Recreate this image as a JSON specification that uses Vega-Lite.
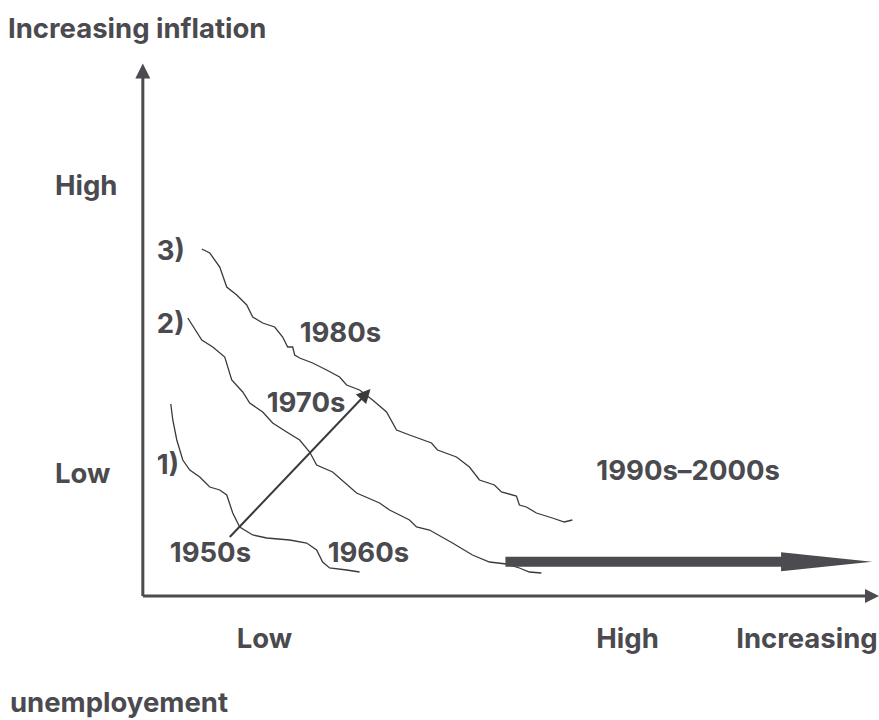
{
  "$schema": "https://vega.github.io/schema/vega-lite/v6.json",
  "width": 879,
  "height": 720,
  "autosize": {"type": "fit", "contains": "padding"},
  "padding": 0,
  "background": "white",
  "config": {"view": {"stroke": null}},
  "datasets": {
    "curves": [
      {"c": 3, "i": 1, "x": 5.9, "y": 34.7}, {"c": 3, "i": 2, "x": 6.7, "y": 34.3}, {"c": 3, "i": 3, "x": 7.7, "y": 32.9},
      {"c": 3, "i": 4, "x": 8.4, "y": 30.9}, {"c": 3, "i": 5, "x": 9.4, "y": 30.1}, {"c": 3, "i": 6, "x": 10.4, "y": 29.1},
      {"c": 3, "i": 7, "x": 11.0, "y": 27.9}, {"c": 3, "i": 8, "x": 12.0, "y": 27.3}, {"c": 3, "i": 9, "x": 13.2, "y": 26.9},
      {"c": 3, "i": 10, "x": 14.0, "y": 25.9}, {"c": 3, "i": 11, "x": 14.5, "y": 24.9}, {"c": 3, "i": 12, "x": 15.0, "y": 24.9},
      {"c": 3, "i": 13, "x": 15.2, "y": 24.1}, {"c": 3, "i": 14, "x": 15.7, "y": 23.8}, {"c": 3, "i": 15, "x": 17.0, "y": 23.3},
      {"c": 3, "i": 16, "x": 18.4, "y": 22.6}, {"c": 3, "i": 17, "x": 19.7, "y": 21.9}, {"c": 3, "i": 18, "x": 20.4, "y": 21.1},
      {"c": 3, "i": 19, "x": 21.7, "y": 20.6}, {"c": 3, "i": 20, "x": 23.0, "y": 19.6}, {"c": 3, "i": 21, "x": 24.4, "y": 18.4},
      {"c": 3, "i": 22, "x": 25.4, "y": 16.6}, {"c": 3, "i": 23, "x": 26.7, "y": 16.1}, {"c": 3, "i": 24, "x": 28.9, "y": 15.3},
      {"c": 3, "i": 25, "x": 29.5, "y": 14.6}, {"c": 3, "i": 26, "x": 31.4, "y": 13.9}, {"c": 3, "i": 27, "x": 32.7, "y": 12.9},
      {"c": 3, "i": 28, "x": 33.7, "y": 11.6}, {"c": 3, "i": 29, "x": 35.2, "y": 11.1}, {"c": 3, "i": 30, "x": 35.9, "y": 10.4},
      {"c": 3, "i": 31, "x": 37.4, "y": 10.0}, {"c": 3, "i": 32, "x": 37.7, "y": 9.1}, {"c": 3, "i": 33, "x": 38.4, "y": 8.9},
      {"c": 3, "i": 34, "x": 39.4, "y": 8.3}, {"c": 3, "i": 35, "x": 41.0, "y": 7.8}, {"c": 3, "i": 36, "x": 42.2, "y": 7.4},
      {"c": 3, "i": 37, "x": 43.0, "y": 7.6},
      {"c": 2, "i": 1, "x": 4.5, "y": 27.8}, {"c": 2, "i": 2, "x": 5.9, "y": 25.6}, {"c": 2, "i": 3, "x": 7.0, "y": 24.9},
      {"c": 2, "i": 4, "x": 8.2, "y": 23.9}, {"c": 2, "i": 5, "x": 8.9, "y": 21.6}, {"c": 2, "i": 6, "x": 10.0, "y": 20.4},
      {"c": 2, "i": 7, "x": 10.7, "y": 19.3}, {"c": 2, "i": 8, "x": 12.0, "y": 18.4}, {"c": 2, "i": 9, "x": 13.0, "y": 17.3},
      {"c": 2, "i": 10, "x": 14.4, "y": 16.4}, {"c": 2, "i": 11, "x": 15.7, "y": 15.6}, {"c": 2, "i": 12, "x": 16.7, "y": 14.4},
      {"c": 2, "i": 13, "x": 17.4, "y": 13.1}, {"c": 2, "i": 14, "x": 19.0, "y": 12.4}, {"c": 2, "i": 15, "x": 21.4, "y": 10.3},
      {"c": 2, "i": 16, "x": 23.7, "y": 9.3}, {"c": 2, "i": 17, "x": 24.7, "y": 8.6}, {"c": 2, "i": 18, "x": 26.7, "y": 7.6},
      {"c": 2, "i": 19, "x": 27.4, "y": 6.9}, {"c": 2, "i": 20, "x": 28.7, "y": 6.6}, {"c": 2, "i": 21, "x": 31.0, "y": 5.3},
      {"c": 2, "i": 22, "x": 33.0, "y": 4.1}, {"c": 2, "i": 23, "x": 34.7, "y": 3.4}, {"c": 2, "i": 24, "x": 36.4, "y": 3.2},
      {"c": 2, "i": 25, "x": 37.7, "y": 2.8}, {"c": 2, "i": 26, "x": 38.7, "y": 2.4}, {"c": 2, "i": 27, "x": 39.9, "y": 2.3},
      {"c": 1, "i": 1, "x": 2.8, "y": 19.2}, {"c": 1, "i": 2, "x": 3.0, "y": 17.6}, {"c": 1, "i": 3, "x": 3.4, "y": 15.6},
      {"c": 1, "i": 4, "x": 4.0, "y": 13.6}, {"c": 1, "i": 5, "x": 4.7, "y": 12.6}, {"c": 1, "i": 6, "x": 5.7, "y": 11.9},
      {"c": 1, "i": 7, "x": 6.7, "y": 10.9}, {"c": 1, "i": 8, "x": 7.7, "y": 10.6}, {"c": 1, "i": 9, "x": 8.4, "y": 10.1},
      {"c": 1, "i": 10, "x": 9.0, "y": 8.3}, {"c": 1, "i": 11, "x": 9.7, "y": 6.9}, {"c": 1, "i": 12, "x": 11.0, "y": 6.1},
      {"c": 1, "i": 13, "x": 12.4, "y": 5.8}, {"c": 1, "i": 14, "x": 14.7, "y": 5.6}, {"c": 1, "i": 15, "x": 16.4, "y": 5.3},
      {"c": 1, "i": 16, "x": 17.4, "y": 4.6}, {"c": 1, "i": 17, "x": 18.0, "y": 3.4}, {"c": 1, "i": 18, "x": 18.7, "y": 2.8},
      {"c": 1, "i": 19, "x": 20.4, "y": 2.6}, {"c": 1, "i": 20, "x": 21.7, "y": 2.4}
    ],
    "labels": [
      {"t": "Increasing inflation", "x": -13.5, "y": 55.8},
      {"t": "High", "x": -8.8, "y": 40.1},
      {"t": "Low", "x": -8.8, "y": 11.3},
      {"t": "3)", "x": 1.4, "y": 33.6},
      {"t": "2)", "x": 1.4, "y": 26.3},
      {"t": "1)", "x": 1.4, "y": 12.2},
      {"t": "1980s", "x": 15.7, "y": 25.4},
      {"t": "1970s", "x": 12.4, "y": 18.4},
      {"t": "1950s", "x": 2.7, "y": 3.4},
      {"t": "1960s", "x": 18.5, "y": 3.4},
      {"t": "1990s–2000s", "x": 45.4, "y": 11.6},
      {"t": "Low", "x": 9.4, "y": -5.2},
      {"t": "High", "x": 45.4, "y": -5.2},
      {"t": "Increasing", "x": 59.4, "y": -5.2},
      {"t": "unemployement", "x": -13.3, "y": -11.6}
    ]
  },
  "encoding": {
    "x": {"field": "x", "type": "quantitative", "scale": {"domain": [-14.3, 73.6], "nice": false, "zero": false}, "axis": null},
    "y": {"field": "y", "type": "quantitative", "scale": {"domain": [-12.4, 59.6], "nice": false, "zero": false}, "axis": null}
  },
  "layer": [
    {
      "data": {"values": [{"x": 0, "y": 0, "x2": 0, "y2": 52}, {"x": 0, "y": 0, "x2": 72.3, "y2": 0}]},
      "mark": {"type": "rule", "color": "#4b4b50", "strokeWidth": 3},
      "encoding": {"x2": {"field": "x2"}, "y2": {"field": "y2"}}
    },
    {
      "data": {"values": [{"x": 0, "y": 52.5}]},
      "mark": {"type": "point", "shape": "M 0 -1 L 1 1 L -1 1 Z", "size": 225, "filled": true, "opacity": 1, "color": "#4b4b50"}
    },
    {
      "data": {"values": [{"x": 73.0, "y": 0}]},
      "mark": {"type": "point", "shape": "M -1 -1 L 1 0 L -1 1 Z", "size": 196, "filled": true, "opacity": 1, "color": "#4b4b50"}
    },
    {
      "data": {"name": "curves"},
      "mark": {"type": "line", "color": "#3a3a3c", "strokeWidth": 1.3},
      "encoding": {"detail": {"field": "c"}, "order": {"field": "i", "type": "quantitative"}}
    },
    {
      "data": {"values": [{"x": 8.7, "y": 5.9, "x2": 21.98, "y2": 19.82}]},
      "mark": {"type": "rule", "color": "#3a3a3c", "strokeWidth": 2},
      "encoding": {"x2": {"field": "x2"}, "y2": {"field": "y2"}}
    },
    {
      "data": {"values": [{"x": 22.32, "y": 20.19}]},
      "mark": {"type": "point", "shape": "M 0 -1 L 1 1 L -1 1 Z", "size": 196, "angle": 43, "filled": true, "opacity": 1, "color": "#3a3a3c"}
    },
    {
      "data": {"values": [{"x": 36.3, "y": 3.43, "x2": 64.2, "y2": 3.43}]},
      "mark": {"type": "rule", "color": "#4b4b50", "strokeWidth": 10, "strokeCap": "butt"},
      "encoding": {"x2": {"field": "x2"}, "y2": {"field": "y2"}}
    },
    {
      "data": {"values": [{"x": 68.45, "y": 3.43}]},
      "mark": {"type": "point", "shape": "M -1 -0.21 L 1 0 L -1 0.21 Z", "size": 8281, "filled": true, "opacity": 1, "color": "#4b4b50"}
    },
    {
      "data": {"name": "labels"},
      "mark": {"type": "text", "align": "left", "baseline": "alphabetic", "font": "Inter", "fontWeight": 700, "fontSize": 27.5, "color": "#4a4a4f"},
      "encoding": {"text": {"field": "t"}}
    }
  ]
}
